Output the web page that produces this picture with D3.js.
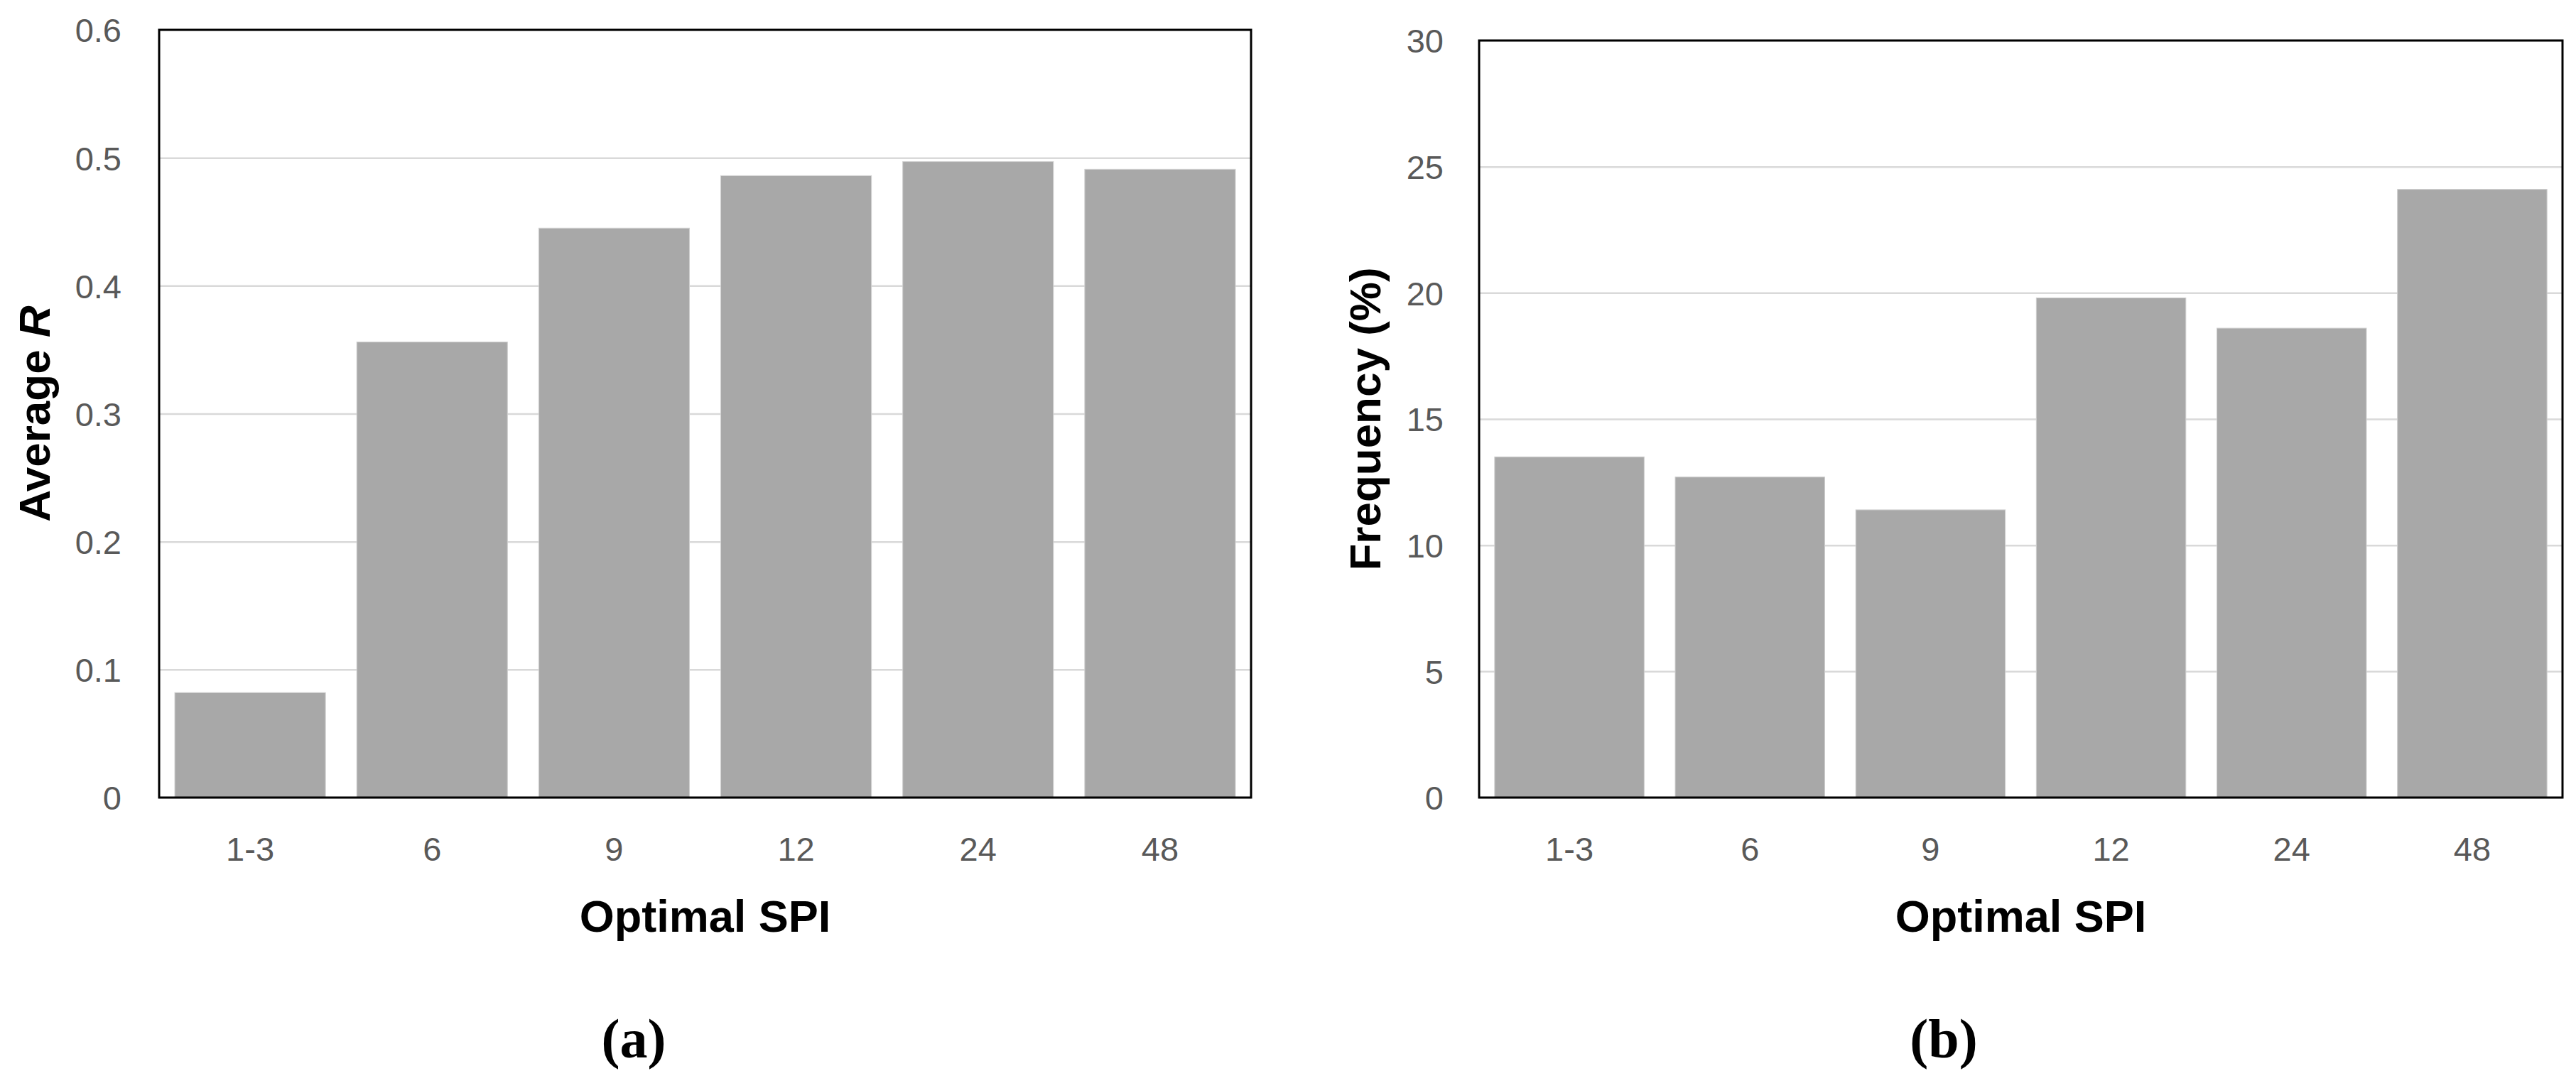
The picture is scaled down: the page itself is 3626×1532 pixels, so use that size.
<!DOCTYPE html>
<html>
<head>
<meta charset="utf-8">
<script src="https://cdn.jsdelivr.net/npm/d3@7"></script>
<style>
  body { margin: 0; background: #fff; }
  svg { display: block; }
</style>
</head>
<body>
<div id="chart"></div>
<script>
var width = 3626;
var height = 1532;

// data
var categories = ["1-3", "6", "9", "12", "24", "48"];
var avgR = [0.082, 0.356, 0.445, 0.486, 0.497, 0.491];
var frequency = [13.5, 12.7, 11.4, 19.8, 18.6, 24.1];
var rTicks = [0, 0.1, 0.2, 0.3, 0.4, 0.5, 0.6];
var freqTicks = [0, 5, 10, 15, 20, 25, 30];

var tickFont = "'Liberation Sans', Arial, sans-serif";
var titleFont = "'Liberation Sans', Arial, sans-serif";
var panelFont = "'Liberation Serif', 'Times New Roman', serif";

var svg = d3.select("#chart").append("svg")
    .attr("width", width)
    .attr("height", height);

var panels = [
    {
        values: avgR, ticks: rTicks, max: 0.6,
        x0: 224, x1: 1761, y0: 42, y1: 1123,
        tickPad: 53, titleX: 70,
        title: ["Average ", "R"],
        label: "(a)", labelX: 892
    },
    {
        values: frequency, ticks: freqTicks, max: 30,
        x0: 2082, x1: 3607, y0: 57, y1: 1123,
        tickPad: 50, titleX: 1943,
        title: ["Frequency (%)"],
        label: "(b)", labelX: 2736
    }
];

panels.forEach(function(p) {
    var g = svg.append("g");

    var x = d3.scaleBand()
        .domain(categories)
        .range([p.x0, p.x1])
        .paddingInner(0.172)
        .paddingOuter(0.086);

    var y = d3.scaleLinear()
        .domain([0, p.max])
        .range([p.y1, p.y0]);

    // gridlines + y tick labels
    var yAxis = g.append("g")
        .attr("transform", "translate(" + p.x0 + ",0)")
        .call(d3.axisLeft(y)
            .tickValues(p.ticks)
            .tickSize(-(p.x1 - p.x0))
            .tickPadding(p.tickPad)
            .tickFormat(function(d) { return String(+d.toFixed(2)); }));
    yAxis.select(".domain").remove();
    yAxis.selectAll(".tick line")
        .attr("stroke", "#d9d9d9")
        .attr("stroke-width", 2.5);
    yAxis.selectAll(".tick text")
        .attr("fill", "#595959")
        .attr("dy", "0.36em")
        .style("font-family", tickFont)
        .style("font-size", "47px");

    // bars
    g.selectAll("rect.bar")
        .data(p.values)
        .enter().append("rect")
            .attr("class", "bar")
            .attr("x", function(d, i) { return x(categories[i]); })
            .attr("width", x.bandwidth())
            .attr("y", function(d) { return y(d); })
            .attr("height", function(d) { return y(0) - y(d); })
            .attr("fill", "#a8a8a8")
            .attr("stroke", "#cfcfcf")
            .attr("stroke-width", 1);

    // x tick labels
    var xAxis = g.append("g")
        .attr("transform", "translate(0," + p.y1 + ")")
        .call(d3.axisBottom(x).tickSize(0).tickPadding(56));
    xAxis.select(".domain").remove();
    xAxis.selectAll(".tick text")
        .attr("fill", "#595959")
        .style("font-family", tickFont)
        .style("font-size", "47px");

    // frame
    g.append("rect")
        .attr("x", p.x0)
        .attr("y", p.y0)
        .attr("width", p.x1 - p.x0)
        .attr("height", p.y1 - p.y0)
        .attr("fill", "none")
        .attr("stroke", "#000")
        .attr("stroke-width", 3);

    // x title
    g.append("text")
        .attr("x", (p.x0 + p.x1) / 2)
        .attr("y", 1312)
        .attr("text-anchor", "middle")
        .style("font-family", titleFont)
        .style("font-weight", "bold")
        .style("font-size", "63px")
        .text("Optimal SPI");

    // y title
    var yt = g.append("text")
        .attr("transform", "translate(" + p.titleX + "," + ((p.y0 + p.y1) / 2) + ") rotate(-90)")
        .attr("text-anchor", "middle")
        .style("font-family", titleFont)
        .style("font-weight", "bold")
        .style("font-size", "62px");
    yt.append("tspan").text(p.title[0]);
    if (p.title[1]) {
        yt.append("tspan").style("font-style", "italic").text(p.title[1]);
    }

    // panel label
    g.append("text")
        .attr("x", p.labelX)
        .attr("y", 1489)
        .attr("text-anchor", "middle")
        .style("font-family", panelFont)
        .style("font-weight", "bold")
        .style("font-size", "78px")
        .text(p.label);
});
</script>
</body>
</html>
